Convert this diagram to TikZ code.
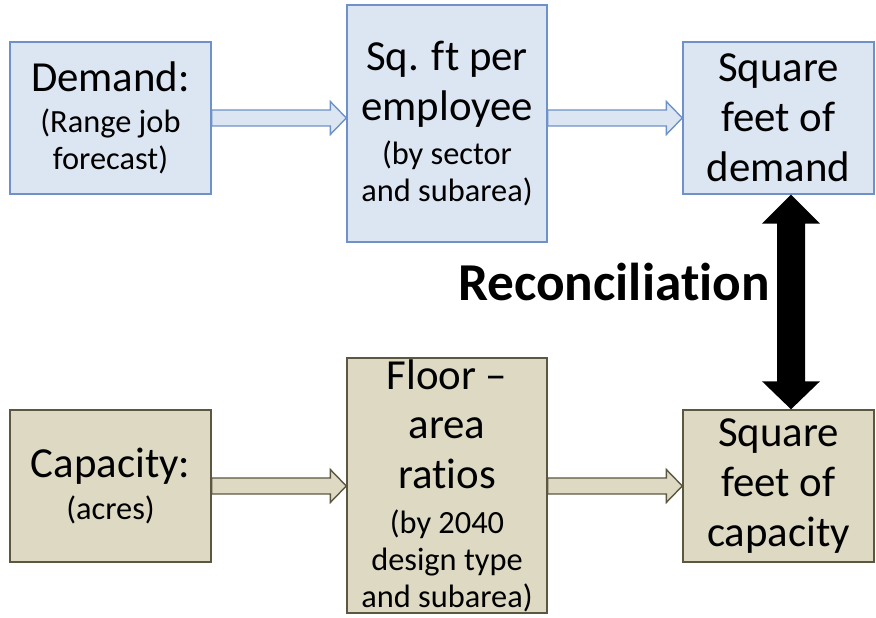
\documentclass[tikz,border=0pt]{standalone}
\usepackage{fontspec}
\setmainfont{Carlito}[Ligatures={NoCommon,NoRare}]
\usepackage{tikz}
\usetikzlibrary{calc}
\definecolor{demfill}{HTML}{DCE6F2}
\definecolor{demline}{HTML}{6E92C8}
\definecolor{capfill}{HTML}{DDD9C3}
\definecolor{capline}{HTML}{5C5741}
\def\bigtxt{\fontsize{43}{50}\selectfont}
\def\smalltxt{\fontsize{32.5}{37}\selectfont}
\def\fatarrow[#1](#2)(#3){\draw[#1] ($(#2)+(0,8)$) -- ($(#3)+(-16,8)$) -- ($(#3)+(-16,16.5)$) -- (#3) -- ($(#3)+(-16,-16.5)$) -- ($(#3)+(-16,-8)$) -- ($(#2)+(0,-8)$) -- cycle;}
\tikzset{
  demandbox/.style={draw=demline, fill=demfill, line width=1.4pt, align=center, inner sep=0pt, font=\bigtxt},
  capbox/.style={draw=capline, fill=capfill, line width=1.4pt, align=center, inner sep=0pt, font=\bigtxt},
}
\begin{document}
\begin{tikzpicture}[x=1bp, y=1bp]
		%%%%% START %%%%%
		\useasboundingbox (0, 0) rectangle (876, 618);
		
		% demand row
		\node[demandbox, minimum width=201bp, minimum height=152bp] (demand) at (110.5, 500) {Demand:\\[-9bp]\smalltxt (Range job\\[-13bp]\smalltxt forecast)};
		\node[demandbox, minimum width=200bp, minimum height=237bp] (sqft) at (447, 494.5) {Sq. ft per\\employee\\[-5bp]\smalltxt (by sector\\[-13bp]\smalltxt and subarea)};
		\node[demandbox, minimum width=191bp, minimum height=152bp] (sqdem) at (778.5, 500) {Square\\feet of\\demand};
		
		% capacity row
		\node[capbox, minimum width=201bp, minimum height=152bp] (capacity) at (110.5, 132) {Capacity:\\[-7bp]\smalltxt (acres)};
		\node[capbox, minimum width=200bp, minimum height=255bp] (far) at (447, 132.5) {Floor \textendash\\area\\ratios\\[-5bp]\smalltxt (by 2040\\[-13bp]\smalltxt design type\\[-13bp]\smalltxt and subarea)};
		\node[capbox, minimum width=191bp, minimum height=152bp] (sqcap) at (778.5, 132) {Square\\feet of\\capacity};
		
		% block arrows
		\coordinate (d1) at (demand.east -| sqft.west);
		\coordinate (d2) at (sqft.east |- sqdem.west);
		\coordinate (c1) at (capacity.east -| far.west);
		\coordinate (c2) at (far.east |- sqcap.west);
		\fatarrow[draw=demline, fill=demfill, line width=1.4pt](demand.east)(d1);
		\fatarrow[draw=demline, fill=demfill, line width=1.4pt](d2)(sqdem.west);
		\fatarrow[draw=capline, fill=capfill, line width=1.4pt](capacity.east)(c1);
		\fatarrow[draw=capline, fill=capfill, line width=1.4pt](c2)(sqcap.west);
		
		% reconciliation
		\coordinate (rtop) at ([xshift=12.5bp]sqdem.south);
		\coordinate (rbot) at ([xshift=12.5bp]sqcap.north);
		\fill[black] (rtop) -- ($(rtop)+(29,-29)$) -- ($(rtop)+(14,-29)$) -- ($(rbot)+(14,28)$) -- ($(rbot)+(29,28)$) -- (rbot)
			-- ($(rbot)+(-29,28)$) -- ($(rbot)+(-14,28)$) -- ($(rtop)+(-14,-29)$) -- ($(rtop)+(-29,-29)$) -- cycle;
		\node[font=\fontsize{53.5}{60}\selectfont\bfseries] (recon) at (614, 336) {Reconciliation};
		
		%%%%% END %%%%%
\end{tikzpicture}
\end{document}
